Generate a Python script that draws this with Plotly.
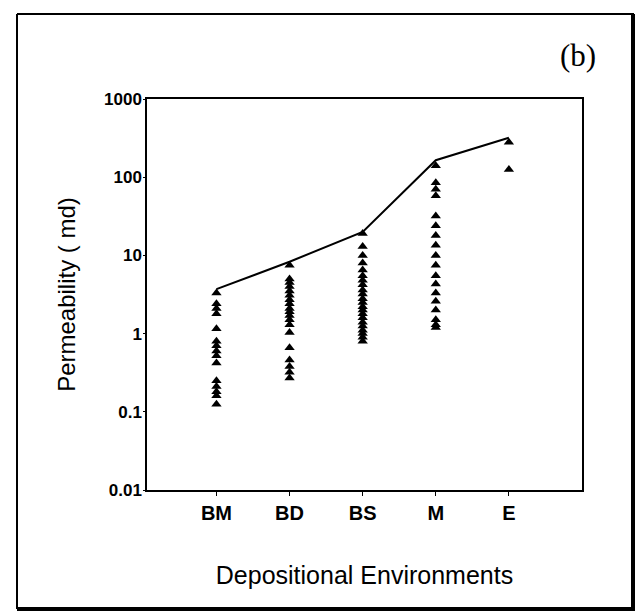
import plotly.graph_objects as go

categories = ["BM", "BD", "BS", "M", "E"]
cat_pos = [1, 2, 3, 4, 5]

bm_vals = [3.3, 2.4, 2.1, 1.8, 1.15, 0.8, 0.7, 0.6, 0.52, 0.42, 0.25, 0.21, 0.18, 0.16, 0.125]
bd_vals = [7.5, 5.0, 4.5, 4.0, 3.5, 3.1, 2.7, 2.4, 2.1, 1.9, 1.7, 1.5, 1.3, 1.03, 0.66, 0.46, 0.38, 0.32, 0.27]
bs_vals = [19, 13, 10, 8, 6.5, 5.5, 4.8, 4.2, 3.6, 3.2, 2.8, 2.5, 2.2, 2.0, 1.8, 1.6, 1.4, 1.25, 1.1, 1.0, 0.9, 0.8]
m_vals = [140, 85, 70, 58, 32, 24, 18, 13.5, 10, 7.5, 5.5, 4.3, 3.3, 2.6, 2.0, 1.5, 1.3, 1.2]
e_vals = [280, 125]
envelope = [3.7, 8.3, 20, 165, 320]

y_tickvals = [0.01, 0.1, 1, 10, 100, 1000]
y_ticktext = ["0.01", "0.1", "1", "10", "100", "1000"]

groups = [bm_vals, bd_vals, bs_vals, m_vals, e_vals]
xs, ys = [], []
for pos, vals in zip(cat_pos, groups):
    xs += [pos] * len(vals)
    ys += vals

fig = go.Figure()
fig.add_trace(go.Scatter(x=cat_pos, y=envelope, mode="lines",
                         line=dict(color="black", width=2), showlegend=False))
fig.add_trace(go.Scatter(x=xs, y=ys, mode="markers",
                         marker=dict(symbol="triangle-up", size=9, color="black"),
                         showlegend=False))

L, R, T, B = 147, 54, 99, 126
W, H = 636, 616
pw, ph = W - L - R, H - T - B

def px(x):
    return (x - L) / pw

def py(y):
    return (H - B - y) / ph

border = dict(type="line", xref="paper", yref="paper")
shapes = [
    dict(border, x0=px(17), x1=px(17), y0=py(14), y1=py(609), line=dict(color="black", width=2)),
    dict(border, x0=px(17), x1=px(634), y0=py(14), y1=py(14), line=dict(color="black", width=2)),
    dict(border, x0=px(633), x1=px(633), y0=py(14), y1=py(611), line=dict(color="black", width=4)),
    dict(border, x0=px(17), x1=px(635), y0=py(609), y1=py(609), line=dict(color="black", width=4)),
]

fig.update_layout(
    width=W, height=H,
    margin=dict(l=L, r=R, t=T, b=B),
    paper_bgcolor="white", plot_bgcolor="white",
    font=dict(family="Liberation Sans, Arial, sans-serif", color="black"),
    shapes=shapes,
    annotations=[dict(text="(b)", xref="paper", yref="paper", x=px(578), y=py(55),
                      xanchor="center", yanchor="middle",
                      showarrow=False, font=dict(family="Liberation Serif, Times New Roman, serif", size=31))],
    xaxis=dict(range=[0.05, 6.0], tickvals=cat_pos, ticktext=categories,
               showgrid=False, zeroline=False, showline=True, linecolor="black", linewidth=1.5,
               mirror=True, ticks="outside", ticklen=4, tickcolor="black",
               tickfont=dict(size=20, family="Liberation Sans, Arial", weight="bold"),
               title=dict(text="Depositional Environments", font=dict(size=25), standoff=44)),
    yaxis=dict(type="log", range=[-2, 3], tickvals=y_tickvals, ticktext=y_ticktext,
               showgrid=False, zeroline=False, showline=True, linecolor="black", linewidth=1.5,
               mirror=True, ticks="outside", ticklen=2, tickcolor="black", ticklabelstandoff=-2,
               tickfont=dict(size=17, family="Liberation Sans, Arial", weight="bold"),
               title=dict(text="Permeability ( md)", font=dict(size=24), standoff=22)),
)

fig.write_html("out.html")
